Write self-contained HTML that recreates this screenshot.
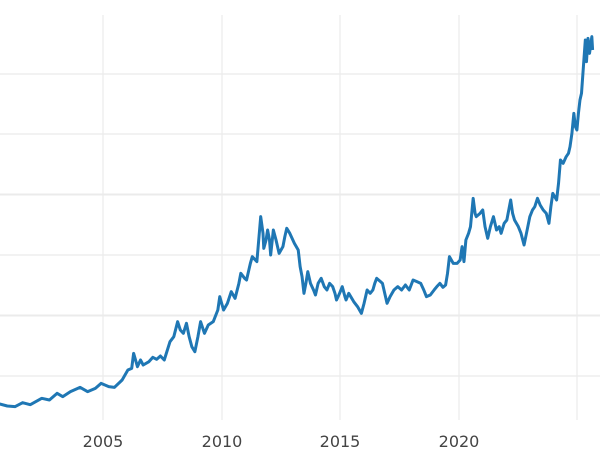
<!DOCTYPE html>
<html><head><meta charset="utf-8"><style>
html,body{margin:0;padding:0;background:#fff;}
svg{display:block;}
</style></head><body>
<svg width="600" height="450" xmlns="http://www.w3.org/2000/svg">
<g stroke="#ebebeb" stroke-width="1.2">
<line x1="0" y1="74" x2="600" y2="74"/>
<line x1="0" y1="134" x2="600" y2="134"/>
<line x1="0" y1="194.5" x2="600" y2="194.5" stroke-width="2"/>
<line x1="0" y1="255" x2="600" y2="255"/>
<line x1="0" y1="315.5" x2="600" y2="315.5" stroke-width="2"/>
<line x1="0" y1="376" x2="600" y2="376"/>
<line x1="103" y1="15" x2="103" y2="420"/>
<line x1="222" y1="15" x2="222" y2="420"/>
<line x1="340" y1="15" x2="340" y2="420"/>
<line x1="459" y1="15" x2="459" y2="420"/>
<line x1="577" y1="15" x2="577" y2="420"/>
</g>
<g transform="translate(-0.36,0) scale(0.3828,0.33333)">
<polyline fill="none" stroke="#1f77b4" stroke-width="3" stroke-linejoin="round" vector-effect="non-scaling-stroke"
points="0,1212 20,1218 40,1220 60,1208 80,1214 110,1195 130,1200 150,1180 165,1190 185,1175 210,1162 230,1175 250,1165 265,1150 285,1160 300,1162 320,1140 335,1110 345,1105 350,1060 360,1100 368,1080 375,1095 390,1085 400,1072 410,1078 420,1068 430,1080 445,1025 455,1010 465,965 472,990 480,1000 488,970 495,1010 502,1040 510,1055 518,1010 525,965 535,1000 545,975 558,965 570,930 575,890 585,930 595,910 605,875 615,895 625,850 630,820 640,835 645,840 655,790 660,770 672,785 682,650 688,700 690,745 696,720 700,690 705,720 708,765 715,690 722,720 730,760 740,740 745,710 750,685 758,700 770,730 780,750 785,800 790,830 795,880 800,850 805,815 812,850 820,870 825,885 832,850 840,835 848,860 855,870 862,850 870,860 876,880 880,900 888,880 895,860 902,890 905,900 912,880 925,905 935,920 945,940 952,910 960,870 968,880 975,870 980,850 985,835 995,845 1000,850 1006,880 1012,910 1020,890 1030,870 1040,860 1050,870 1060,855 1070,870 1080,840 1090,845 1100,850 1108,870 1115,890 1125,885 1135,870 1142,860 1150,850 1158,862 1165,855 1170,820 1175,770 1185,790 1195,790 1203,780 1208,740 1213,785 1218,720 1225,700 1230,680 1237,595 1242,640 1245,650 1255,640 1262,630 1268,680 1275,715 1282,680 1290,650 1298,690 1305,680 1310,700 1318,670 1325,660 1335,600 1340,640 1345,660 1355,680 1362,700 1370,735 1378,690 1385,650 1392,630 1398,620 1405,595 1412,615 1420,630 1428,640 1435,670 1440,620 1445,580 1455,600 1460,550 1465,480 1472,490 1480,470 1486,460 1490,440 1495,400 1500,340 1504,380 1508,390 1512,340 1516,300 1520,280 1525,200 1530,120 1533,185 1537,115 1541,160 1547,110 1549,150"/>
</g>
<g font-family="'DejaVu Sans','Liberation Sans',sans-serif" font-size="16" fill="#444" text-anchor="middle">
<text x="103" y="447">2005</text>
<text x="222" y="447">2010</text>
<text x="340" y="447">2015</text>
<text x="459" y="447">2020</text>
</g>
</svg>
</body></html>
